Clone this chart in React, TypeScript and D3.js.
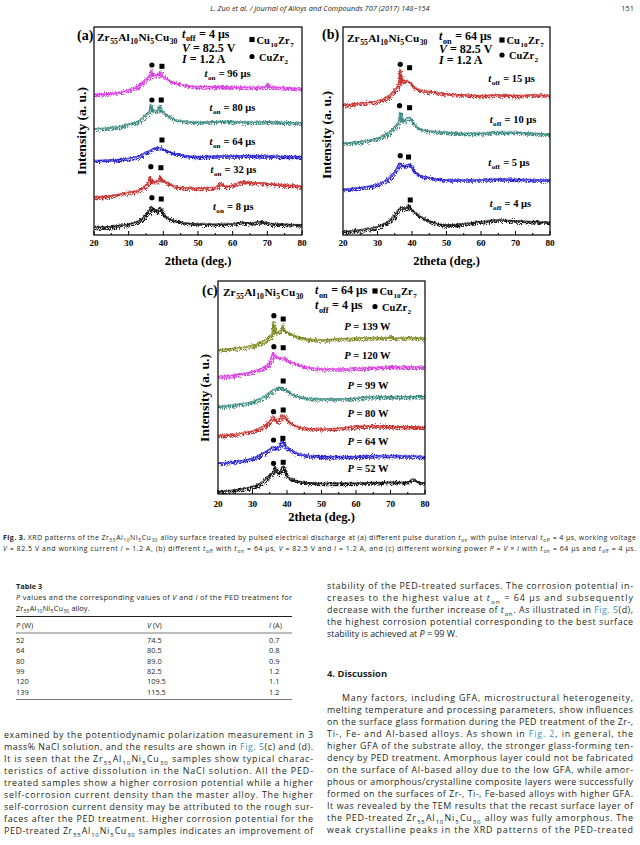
import React from 'react';
import * as d3 from 'd3';

type Pt = [number, number];

const SERIF = "'Liberation Serif','Times New Roman',serif";
const SANS = "'Open Sans','Noto Sans',sans-serif";
const LINK = '#3b8ec4';
const INK = '#231f20';

const xTicks = [20, 30, 40, 50, 60, 70, 80];
const xMinor = [25, 35, 45, 55, 65, 75];

// ---------- Panel (a): different t_on ----------
const aNames = ['8', '32', '64', '80', '96'];
const aTon8: Pt[] = [[20,7.7],[25,8.3],[28,10],[30,10.7],[32,12.7],[34,16.7],[35,20.7],[36,25],[36.5,28.3],[37,26],[38,23.3],[39,27.3],[40,20],[42,15.7],[45,12.7],[50,11],[55,10.7],[60,11],[63,12.7],[65,11.7],[68,13.3],[70,11.7],[75,10.7],[80,10]];
const aTon32: Pt[] = [[20,37.7],[25,39.3],[30,42.7],[33,45],[35,50],[35.7,52],[36,58.3],[36.4,53.5],[38,53.3],[38.7,54],[39,59.3],[39.4,54.5],[40,54],[42,50.7],[45,47.3],[50,46.7],[55,47.7],[56.5,51.7],[58,48.3],[60,50],[63,53.3],[65,52.7],[68,52],[70,51.3],[75,50],[80,48.7]];
const aTon64: Pt[] = [[20,74.3],[25,75],[30,76.7],[33,79],[35,82.7],[37,86],[38,87.3],[39,87.3],[40,86],[42,82.7],[45,80],[50,78.3],[55,79],[60,79],[65,79.3],[70,79],[75,78.7],[80,78.3]];
const aTon80: Pt[] = [[20,106],[25,107.3],[30,110.7],[33,114],[35,120.7],[36,124],[36.3,130.7],[36.7,125],[38,124],[38.5,125],[38.8,129.3],[39.2,124.5],[40,122.7],[42,117.3],[45,114],[50,112.7],[55,113.3],[60,113.3],[65,112.7],[70,113.3],[75,112.7],[80,112]];
const aTon96: Pt[] = [[20,140.7],[25,141.7],[30,145],[33,150],[35,156],[36.2,160],[36.5,165],[36.9,160],[38.5,160],[39,163.3],[39.4,159],[40,158.3],[42,154],[45,150.7],[50,148.3],[55,148.3],[60,148],[65,147.7],[69.6,148],[70,151.3],[70.4,148],[75,147.3],[80,146]];
const aColors = ['#141414', '#c8302e', '#2a24d2', '#3c8a80', '#d83ee0'];
const aCircles: Pt[] = [[36.7,170],[36.7,135],[36.4,68.3],[36.7,37.3]];
const aSquares: Pt[] = [[39.6,168.7],[39.4,135],[39.6,95],[39.3,67.3],[39.4,36]];
const aLabelAt: Pt[] = [[54.3,28.3],[53.6,66],[53.3,94],[53.3,127.7],[51.9,161.7]];

// ---------- Panel (b): different t_off ----------
const bNames = ['4', '5', '10', '15'];
const bToff4: Pt[] = [[20,3.3],[25,5],[30,8.3],[33,13.3],[35,20],[36,25],[37,27.3],[38,26.7],[38.7,27],[39,30],[39.4,26],[40,24.7],[42,19.3],[45,14],[48,10.7],[50,10],[55,11.3],[60,13.3],[65,15],[70,14],[75,13.3],[80,12.7]];
const bToff5: Pt[] = [[20,45.7],[25,47.3],[30,50.7],[33,55.7],[35,63.3],[36.5,71.7],[37.5,68.3],[38.5,70],[39.5,70.7],[40,66.7],[42,60],[45,57.3],[50,55],[55,55],[60,55],[65,56],[70,55.7],[75,55],[80,55]];
const bToff10: Pt[] = [[20,91.7],[25,93.3],[30,96.7],[33,101.7],[35,108.3],[36.2,114],[36.5,122.7],[36.9,114],[37.5,113.3],[38.5,116.7],[39.3,117.3],[40,113.3],[42,106.7],[45,104],[50,102.7],[55,101.7],[60,101.7],[65,102.7],[70,102.7],[75,101.7],[80,100.7]];
const bToff15: Pt[] = [[20,130],[25,131.7],[30,134],[33,138.3],[35,145],[36.2,151.7],[36.5,166],[36.8,152.7],[38,154],[39,153.3],[40,150],[42,145],[45,143.3],[50,141],[55,140],[60,139.3],[65,140],[70,139.3],[75,140],[80,139.3]];
const bColors = ['#141414', '#2a24d2', '#3c8a80', '#c8302e'];
const bCircles: Pt[] = [[36.6,170.7],[36.4,129.3],[36.6,79.3]];
const bSquares: Pt[] = [[39.3,167.3],[39.3,127.3],[39.0,78],[39.5,35]];
const bLabelAt: Pt[] = [[62.5,31.7],[62.1,72.7],[62.5,116],[62.1,156.7]];

// ---------- Panel (c): different P ----------
const cNames = ['52', '64', '80', '99', '120', '139'];
const cP52: Pt[] = [[20,2.3],[25,4],[30,7.3],[33,12.3],[35,19],[36,22.3],[36.5,27.3],[37.3,20.7],[38,22.3],[38.7,27.3],[40,17.3],[42,14],[45,11.7],[50,10.7],[55,10.7],[60,10.7],[65,11.3],[70,11.7],[75,11.7],[76.5,15],[78,11.7],[80,10.7]];
const cP64: Pt[] = [[20,30.7],[25,32.3],[30,35.7],[33,40.7],[35,44.7],[36,47.3],[37,45.7],[38,49],[38.5,54],[39.5,47.3],[41,44],[43,40.7],[45,39],[50,37.3],[55,37.3],[60,37.3],[65,38.3],[70,38.3],[75,38],[80,37.3]];
const cP80: Pt[] = [[20,58.3],[25,59.7],[30,63],[33,67.3],[35,72.3],[36,77.3],[37,72.3],[38,75.7],[38.5,79],[39.5,75.7],[41,70.7],[43,67.3],[45,65.7],[50,65],[55,65.7],[60,67.3],[65,68.3],[70,67.3],[75,67.3],[80,66.3]];
const cP99: Pt[] = [[20,87.3],[25,89],[30,92.3],[33,96.3],[35,101.7],[37,105.7],[38,106.3],[39,105],[40,103],[42,99],[45,96.3],[50,95],[55,95],[60,95.7],[65,97.3],[70,97.3],[75,97.3],[80,97.3]];
const cP120: Pt[] = [[20,117.3],[25,119],[30,122.3],[33,126.3],[35,131.7],[36,140.7],[36.8,137.3],[38,135.7],[39,136.3],[40,134],[42,130.7],[45,127.3],[50,125],[55,125],[60,125.7],[65,126.3],[70,127.3],[75,127.3],[80,126.3]];
const cP139: Pt[] = [[20,144],[25,145.7],[30,148.3],[33,152.3],[35,157.3],[35.7,160],[36,172.3],[36.4,161],[38,163],[38.4,164],[38.7,169],[39.1,163],[40,161.7],[42,158.3],[45,155.7],[50,154],[55,155],[60,155.7],[65,156.3],[69.6,156],[70,158.3],[70.5,155.7],[75,156.3],[80,155.7]];
const cColors = ['#141414', '#2a24d2', '#c8302e', '#3c8a80', '#d83ee0', '#7c8a22'];
const cCircles: Pt[] = [[36.2,178.3],[36.2,147.3],[36.1,82.3],[36.1,54],[36.1,30.7]];
const cSquares: Pt[] = [[38.9,175],[38.9,146.3],[38.9,113],[38.9,84],[38.8,55.7],[38.9,31.7]];
const cLabelAt: Pt[] = [[57.5,25.7],[57.5,53],[57.5,80.7],[57.5,109],[56.6,139],[56.6,167.3]];

// ---------- Table 3 ----------
const tableP = ['52', '64', '80', '99', '120', '139'];
const tableV = ['74.5', '80.5', '89.0', '82.5', '109.5', '115.5'];
const tableI = ['0.7', '0.8', '0.9', '1.2', '1.1', '1.2'];

// ---------- text ----------
const ALLOY = 'Zr_{55}Al_{10}Ni_{5}Cu_{30}';
const captionLines = [
  `**Fig. 3.** XRD patterns of the ${ALLOY} alloy surface treated by pulsed electrical discharge at (a) different pulse duration *t*_{on} with pulse interval *t*_{off} = 4 μs, working voltage`,
  '*V* = 82.5 V and working current *I* = 1.2 A, (b) different *t*_{off} with *t*_{on} = 64 μs, *V* = 82.5 V and *I* = 1.2 A, and (c) different working power *P* = *V* × *I* with *t*_{on} = 64 μs and *t*_{off} = 4 μs.',
];
const leftLines = [
  'examined by the potentiodynamic polarization measurement in 3',
  'mass% NaCl solution, and the results are shown in [Fig. 5](c) and (d).',
  `It is seen that the ${ALLOY} samples show typical charac-`,
  'teristics of active dissolution in the NaCl solution. All the PED-',
  'treated samples show a higher corrosion potential while a higher',
  'self-corrosion current density than the master alloy. The higher',
  'self-corrosion current density may be attributed to the rough sur-',
  'faces after the PED treatment. Higher corrosion potential for the',
  `PED-treated ${ALLOY} samples indicates an improvement of`,
];
const rightTopLines = [
  'stability of the PED-treated surfaces. The corrosion potential in-',
  'creases to the highest value at *t*_{on} = 64 μs and subsequently',
  'decrease with the further increase of *t*_{on}. As illustrated in [Fig. 5](d),',
  'the highest corrosion potential corresponding to the best surface',
  'stability is achieved at *P* = 99 W.',
];
const discussionLines = [
  'Many factors, including GFA, microstructural heterogeneity,',
  'melting temperature and processing parameters, show influences',
  'on the surface glass formation during the PED treatment of the Zr-,',
  'Ti-, Fe- and Al-based alloys. As shown in [Fig. 2], in general, the',
  'higher GFA of the substrate alloy, the stronger glass-forming ten-',
  'dency by PED treatment. Amorphous layer could not be fabricated',
  'on the surface of Al-based alloy due to the low GFA, while amor-',
  'phous or amorphous/crystalline composite layers were successfully',
  'formed on the surfaces of Zr-, Ti-, Fe-based alloys with higher GFA.',
  'It was revealed by the TEM results that the recast surface layer of',
  `the PED-treated ${ALLOY} alloy was fully amorphous. The`,
  'weak crystalline peaks in the XRD patterns of the PED-treated',
];

type Seg = { t: string; k: string };
function parseRich(s: string): Seg[] {
  const re = /(_\{[^}]*\}|\*\*[^*]+\*\*|\*[^*]+\*|\[[^\]]+\])/g;
  return s.split(re).filter((p) => p !== '').map((p) => {
    if (p.startsWith('_{')) return { t: p.slice(2, -1), k: 'sub' };
    if (p.startsWith('**')) return { t: p.slice(2, -2), k: 'b' };
    if (p.startsWith('*')) return { t: p.slice(1, -1), k: 'i' };
    if (p.startsWith('[')) return { t: p.slice(1, -1), k: 'link' };
    return { t: p, k: 'n' };
  });
}

function Rich(props: any) {
  const { x, y, s, size, family, weight = 'normal', fill = '#000', width, anchor, transform, subScale = 0.68 } = props;
  const segs = parseRich(s);
  const sh = size * 0.3;
  const gap = size * 0.05;
  let down = false;
  const kids = segs.map((sg, i) => {
    let dy: number | undefined;
    let dx: number | undefined;
    if (sg.k === 'sub') {
      dy = down ? 0 : sh;
      dx = gap;
      down = true;
    } else {
      if (down) {
        dy = -sh;
        dx = gap;
      }
      down = false;
    }
    return (
      <tspan
        key={i}
        dx={dx}
        dy={dy}
        fontSize={sg.k === 'sub' ? size * subScale : undefined}
        fontStyle={sg.k === 'i' ? 'italic' : undefined}
        fontWeight={sg.k === 'b' ? 'bold' : undefined}
        fill={sg.k === 'link' ? LINK : undefined}
      >
        {sg.t}
      </tspan>
    );
  });
  return (
    <text
      x={x}
      y={y}
      fontSize={size}
      fontFamily={family}
      fontWeight={weight}
      fill={fill}
      textAnchor={anchor}
      textLength={width}
      lengthAdjust={width ? 'spacing' : undefined}
      transform={transform}
      style={{ whiteSpace: 'pre' }}
    >
      {kids}
    </text>
  );
}

type Box = { l: number; r: number; t: number; b: number };

function Panel(props: any) {
  const { id, box, yMax, series, colors, circles, squares, labels, labelAt, tickDy, titleDy, yLabel } = props;
  const b: Box = box;
  const x = d3.scaleLinear().domain([20, 80]).range([b.l, b.r]);
  const y = d3.scaleLinear().domain([0, yMax]).range([b.b, b.t]);
  const line = d3.line<Pt>().x((d) => x(d[0])).y((d) => y(d[1])).curve(d3.curveMonotoneX);
  return (
    <g>
      <clipPath id={`clip-${id}`}>
        <rect x={b.l} y={b.t} width={b.r - b.l} height={b.b - b.t} />
      </clipPath>
      <g clipPath={`url(#clip-${id})`}>
        {series.map((s: Pt[], i: number) => (
          <g key={i}>
            <path d={line(s) || ''} fill="none" stroke={colors[i]} strokeWidth={1.8} strokeOpacity={0.6} />
            <path d={line(s) || ''} fill="none" stroke={colors[i]} strokeWidth={1.7} filter="url(#jit)" />
            <path d={line(s) || ''} fill="none" stroke={colors[i]} strokeWidth={1.2} filter="url(#jit2)" />
          </g>
        ))}
      </g>
      <rect x={b.l} y={b.t} width={b.r - b.l} height={b.b - b.t} fill="none" stroke="#000" strokeWidth={1.2} />
      {xTicks.map((t) => (
        <g key={t}>
          <line x1={x(t)} x2={x(t)} y1={b.b} y2={b.b - 4} stroke="#000" strokeWidth={1} />
          <text x={x(t)} y={b.b + tickDy} textAnchor="middle" fontFamily={SERIF} fontWeight="bold" fontSize={9.2}>
            {t}
          </text>
        </g>
      ))}
      {xMinor.map((t) => (
        <line key={t} x1={x(t)} x2={x(t)} y1={b.b} y2={b.b - 2} stroke="#000" strokeWidth={1} />
      ))}
      <text x={(b.l + b.r) / 2} y={b.b + titleDy} textAnchor="middle" fontFamily={SERIF} fontWeight="bold" fontSize={12.5}>
        2theta (deg.)
      </text>
      <text
        transform={`translate(${yLabel[0]},${yLabel[1]}) rotate(-90)`}
        textAnchor="middle"
        fontFamily={SERIF}
        fontWeight="bold"
        fontSize={13.5}
      >
        Intensity (a. u.)
      </text>
      {circles.map((p: Pt, i: number) => (
        <circle key={i} cx={x(p[0])} cy={y(p[1])} r={2.6} fill="#000" />
      ))}
      {squares.map((p: Pt, i: number) => (
        <rect key={i} x={x(p[0]) - 2.5} y={y(p[1]) - 2.5} width={5} height={5} fill="#000" />
      ))}
      {labels.map((s: string, i: number) => (
        <Rich key={i} x={x(labelAt[i][0])} y={y(labelAt[i][1]) + 3.5} s={s} size={10.5} family={SERIF} weight="bold" />
      ))}
    </g>
  );
}

function Legend({ x, y1, y2 }: { x: number; y1: number; y2: number }) {
  return (
    <g>
      <rect x={x - 2.6} y={y1 - 2.6} width={5.2} height={5.2} fill="#000" />
      <Rich x={x + 4.5} y={y1 + 4} s="Cu_{10}Zr_{7}" size={10.5} family={SERIF} weight="bold" />
      <circle cx={x} cy={y2} r={2.6} fill="#000" />
      <Rich x={x + 7} y={y2 + 4} s="CuZr_{2}" size={10.5} family={SERIF} weight="bold" />
    </g>
  );
}

export default function App() {
  const boxA: Box = { l: 94, r: 302, t: 27, b: 235 };
  const boxB: Box = { l: 343, r: 550, t: 27, b: 235 };
  const boxC: Box = { l: 218, r: 425, t: 281, b: 494 };
  const lineH = 12;
  const BODY = 8.9;
  return (
    <svg width={640} height={845} style={{ position: 'absolute', left: 0, top: 0, background: '#fff' }}>
      <defs>
        <filter id="jit" x="-2%" y="-40%" width="104%" height="180%">
          <feTurbulence type="turbulence" baseFrequency="0.7 1.1" numOctaves={2} seed={7} result="n" />
          <feDisplacementMap in="SourceGraphic" in2="n" scale={6} xChannelSelector="R" yChannelSelector="B" />
        </filter>
        <filter id="jit2" x="-2%" y="-40%" width="104%" height="180%">
          <feTurbulence type="fractalNoise" baseFrequency="0.9 0.6" numOctaves={2} seed={21} result="n" />
          <feDisplacementMap in="SourceGraphic" in2="n" scale={6} xChannelSelector="G" yChannelSelector="R" />
        </filter>
      </defs>
      <rect width={640} height={845} fill="#fff" />

      {/* running header */}
      <text x={320} y={10.5} textAnchor="middle" fontFamily={SANS} fontStyle="italic" fontSize={7.4} fill={INK}>
        L. Zuo et al. / Journal of Alloys and Compounds 707 (2017) 148−154
      </text>
      <text x={634} y={10.5} textAnchor="end" fontFamily={SANS} fontSize={7.4} fill={INK}>
        151
      </text>

      {/* panel a */}
      <Panel
        id="a"
        box={boxA}
        yMax={208}
        series={[aTon8, aTon32, aTon64, aTon80, aTon96]}
        colors={aColors}
        circles={aCircles}
        squares={aSquares}
        labels={aNames.map((n) => `*t*_{on} = ${n} μs`)}
        labelAt={aLabelAt}
        tickDy={11}
        titleDy={30}
        yLabel={[86, 131]}
      />
      <text x={77} y={39.5} fontFamily={SERIF} fontWeight="bold" fontSize={14}>(a)</text>
      <Rich x={97} y={41} s={ALLOY} size={11.3} family={SERIF} weight="bold" />
      <Rich x={182} y={37.5} s="*t*_{off} = 4 μs" size={12} family={SERIF} weight="bold" />
      <Rich x={182} y={52} s="*V* = 82.5 V" size={12} family={SERIF} weight="bold" />
      <Rich x={182} y={62.5} s="*I* = 1.2 A" size={12} family={SERIF} weight="bold" />
      <Legend x={252} y1={39.5} y2={56.5} />

      {/* panel b */}
      <Panel
        id="b"
        box={boxB}
        yMax={208}
        series={[bToff4, bToff5, bToff10, bToff15]}
        colors={bColors}
        circles={bCircles}
        squares={bSquares}
        labels={bNames.map((n) => `*t*_{off} = ${n} μs`)}
        labelAt={bLabelAt}
        tickDy={11}
        titleDy={30}
        yLabel={[331, 135]}
      />
      <text x={322} y={38.5} fontFamily={SERIF} fontWeight="bold" fontSize={14}>(b)</text>
      <Rich x={347} y={41.5} s={ALLOY} size={11.3} family={SERIF} weight="bold" />
      <Rich x={439} y={40} s="*t*_{on} = 64 μs" size={12} family={SERIF} weight="bold" />
      <Rich x={439} y={53} s="*V* = 82.5 V" size={12} family={SERIF} weight="bold" />
      <Rich x={439} y={63.5} s="*I* = 1.2 A" size={12} family={SERIF} weight="bold" />
      <Legend x={502} y1={40} y2={55} />

      {/* panel c */}
      <Panel
        id="c"
        box={boxC}
        yMax={213}
        series={[cP52, cP64, cP80, cP99, cP120, cP139]}
        colors={cColors}
        circles={cCircles}
        squares={cSquares}
        labels={cNames.map((n) => `*P* = ${n} W`)}
        labelAt={cLabelAt}
        tickDy={13}
        titleDy={27}
        yLabel={[209, 398]}
      />
      <text x={202} y={294.5} fontFamily={SERIF} fontWeight="bold" fontSize={14}>(c)</text>
      <Rich x={223} y={296} s={ALLOY} size={11.3} family={SERIF} weight="bold" />
      <Rich x={315} y={294} s="*t*_{on} = 64 μs" size={12} family={SERIF} weight="bold" />
      <Rich x={315} y={309} s="*t*_{off} = 4 μs" size={12} family={SERIF} weight="bold" />
      <Legend x={375} y1={291} y2={306.5} />

      {/* figure caption */}
      {captionLines.map((s, i) => (
        <Rich key={i} x={3} y={540 + i * 11} s={s} size={7.0} family={SANS} fill={INK} width={633} />
      ))}

      {/* table 3 */}
      <text x={16} y={589} fontFamily={SANS} fontWeight="bold" fontSize={7.4} fill={INK}>Table 3</text>
      <Rich x={16} y={600} s="*P* values and the corresponding values of *V* and *I* of the PED treatment for" size={7.4} family={SANS} fill={INK} width={276} />
      <Rich x={16} y={611} s={`${ALLOY} alloy.`} size={7.4} family={SANS} fill={INK} />
      <line x1={16} x2={292} y1={616.5} y2={616.5} stroke={INK} strokeWidth={1.2} />
      <Rich x={16} y={628} s="*P* (W)" size={7.4} family={SANS} fill={INK} />
      <Rich x={147} y={628} s="*V* (V)" size={7.4} family={SANS} fill={INK} />
      <Rich x={269} y={628} s="*I* (A)" size={7.4} family={SANS} fill={INK} />
      <line x1={16} x2={292} y1={633} y2={633} stroke={INK} strokeWidth={0.6} />
      {tableP.map((p, i) => (
        <g key={p} fontFamily={SANS} fontSize={7.4} fill={INK}>
          <text x={16} y={643 + i * 10.35}>{p}</text>
          <text x={147} y={643 + i * 10.35}>{tableV[i]}</text>
          <text x={269} y={643 + i * 10.35}>{tableI[i]}</text>
        </g>
      ))}
      <line x1={16} x2={292} y1={699.5} y2={699.5} stroke={INK} strokeWidth={0.6} />

      {/* left column body text */}
      {leftLines.map((s, i) => (
        <Rich key={i} x={4} y={738 + i * lineH} s={s} size={BODY} family={SANS} fill={INK} width={309} />
      ))}

      {/* right column */}
      {rightTopLines.map((s, i) => (
        <Rich key={i} x={327} y={589 + i * lineH} s={s} size={BODY} family={SANS} fill={INK} width={i < 4 ? 306 : undefined} />
      ))}
      <text x={327} y={676.5} fontFamily={SANS} fontWeight="bold" fontSize={9.4} fill={INK}>4.  Discussion</text>
      {discussionLines.map((s, i) => (
        <Rich key={i} x={i === 0 ? 342 : 327} y={701 + i * lineH} s={s} size={BODY} family={SANS} fill={INK} width={i === 0 ? 291 : 306} />
      ))}
    </svg>
  );
}
